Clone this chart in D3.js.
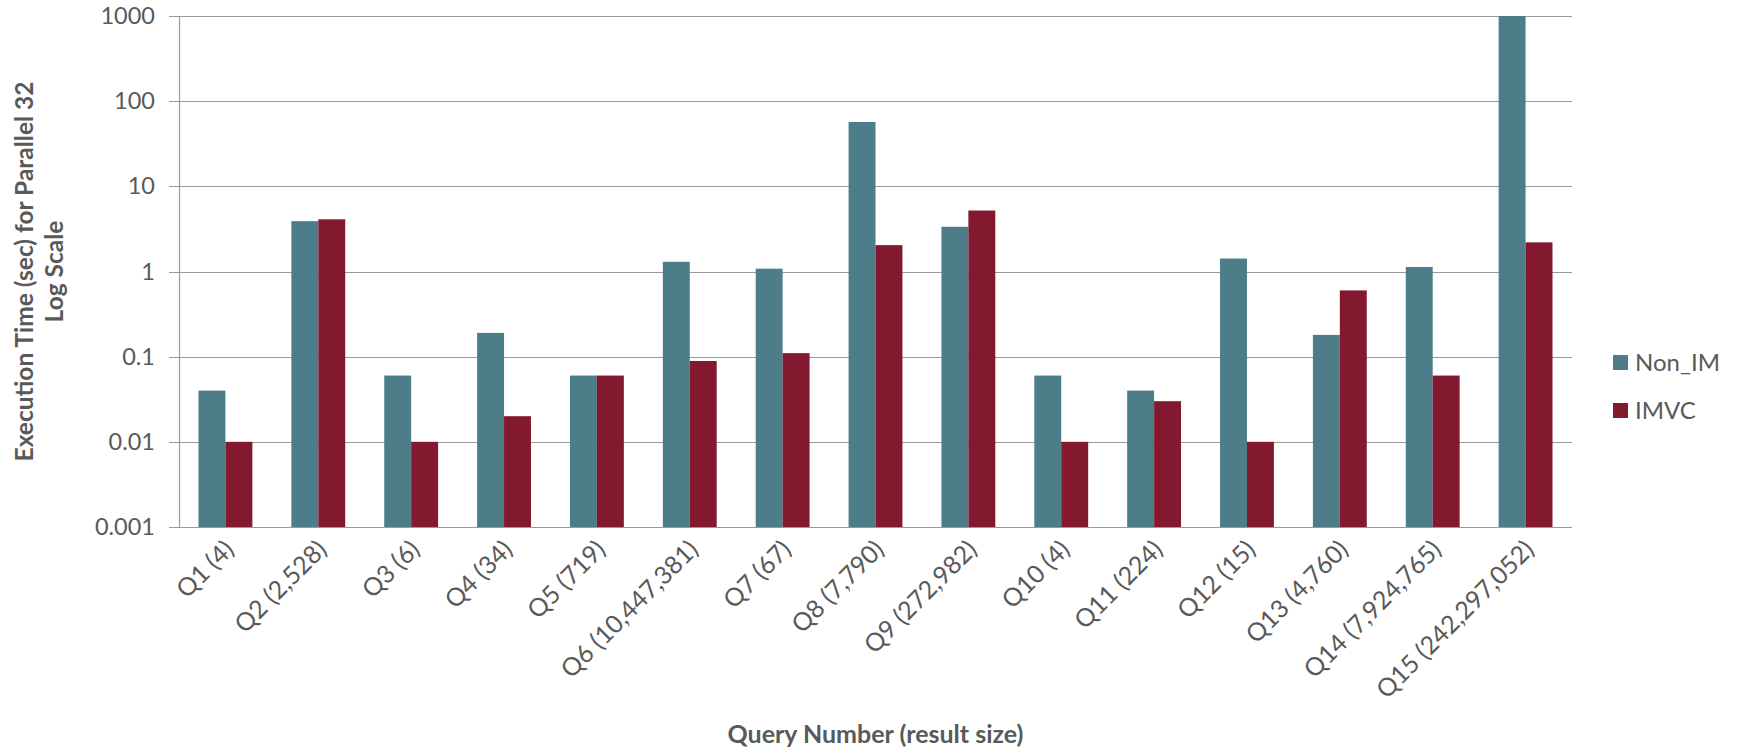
<!DOCTYPE html>
<html>
<head>
<meta charset="utf-8">
<script src="https://cdn.jsdelivr.net/npm/d3@7"></script>
<style>
  body { margin: 0; background: #fff; }
  text { font-family: Lato, "Open Sans", sans-serif; fill: #595959; }
</style>
</head>
<body>
<div id="chart"></div>
<script>
var queries = ["Q1 (4)", "Q2 (2,528)", "Q3 (6)", "Q4 (34)", "Q5 (719)", "Q6 (10,447,381)",
    "Q7 (67)", "Q8 (7,790)", "Q9 (272,982)", "Q10 (4)", "Q11 (224)", "Q12 (15)",
    "Q13 (4,760)", "Q14 (7,924,765)", "Q15 (242,297,052)"];
var seriesNames = ["Non_IM", "IMVC"];
var nonIM = [0.04, 3.9, 0.06, 0.19, 0.06, 1.3, 1.08, 57, 3.35, 0.06, 0.04, 1.42, 0.18, 1.13, 1000];
var imvc  = [0.01, 4.1, 0.01, 0.02, 0.06, 0.089, 0.11, 2.04, 5.2, 0.01, 0.03, 0.01, 0.6, 0.06, 2.2];
var yTicks = [0.001, 0.01, 0.1, 1, 10, 100, 1000];
var colors = ["#4c7d89", "#82192f"];

var width = 1742, height = 751;
var plotLeft = 179, plotRight = 1572, plotTop = 16, plotBottom = 527;

var rows = queries.map(function (q, i) {
    return { q: q, vals: [nonIM[i], imvc[i]] };
});

var svg = d3.select("#chart").append("svg")
    .attr("width", width)
    .attr("height", height);

var x0 = d3.scaleBand()
    .domain(queries)
    .range([plotLeft, plotRight])
    .paddingInner(0.42)
    .paddingOuter(0.21);

var x1 = d3.scaleBand()
    .domain(seriesNames)
    .range([0, x0.bandwidth()]);

var y = d3.scaleLog()
    .domain([0.001, 1000])
    .range([plotBottom, plotTop]);

// gridlines
svg.append("g")
    .selectAll("line")
    .data(yTicks)
    .enter()
    .append("line")
    .attr("x1", plotLeft - 10)
    .attr("x2", plotRight)
    .attr("y1", function (d) { return Math.round(y(d)) + 0.5; })
    .attr("y2", function (d) { return Math.round(y(d)) + 0.5; })
    .attr("stroke", "#9a9a9a")
    .attr("stroke-width", 1.2);

// bars
var groups = svg.append("g")
    .selectAll("g")
    .data(rows)
    .enter()
    .append("g")
    .attr("transform", function (d) { return "translate(" + x0(d.q) + ",0)"; });

groups.selectAll("rect")
    .data(function (d) { return d.vals.map(function (v, i) { return { key: seriesNames[i], v: v, i: i }; }); })
    .enter()
    .append("rect")
    .attr("x", function (d) { return x1(d.key); })
    .attr("width", x1.bandwidth())
    .attr("y", function (d) { return y(d.v); })
    .attr("height", function (d) { return plotBottom - y(d.v); })
    .attr("fill", function (d) { return colors[d.i]; });

// y axis
var yAxis = d3.axisLeft(y)
    .tickValues(yTicks)
    .tickFormat(function (d) { return String(d); })
    .tickSize(0)
    .tickPadding(24);

var gy = svg.append("g")
    .attr("transform", "translate(" + plotLeft + ",0)")
    .call(yAxis);
gy.select(".domain").remove();
gy.selectAll("text")
    .style("font-size", "23.5px")
    .style("fill", "#595959");

svg.append("line")
    .attr("x1", plotLeft + 0.5).attr("x2", plotLeft + 0.5)
    .attr("y1", plotTop).attr("y2", plotBottom)
    .attr("stroke", "#9a9a9a").attr("stroke-width", 1.2);

// x axis
var xAxis = d3.axisBottom(x0).tickSize(0).tickPadding(0);
var gx = svg.append("g")
    .attr("transform", "translate(0," + plotBottom + ")")
    .call(xAxis);
gx.select(".domain").remove();
gx.selectAll("text")
    .style("font-size", "25px")
    .style("fill", "#595959")
    .attr("text-anchor", "end")
    .attr("dy", null)
    .attr("y", 0)
    .attr("transform", "translate(10,24) rotate(-45)");

// axis titles
svg.append("text")
    .attr("text-anchor", "middle")
    .attr("transform", "translate(33," + ((plotTop + plotBottom) / 2) + ") rotate(-90)")
    .style("font-size", "24.5px")
    .style("font-weight", "bold")
    .text("Execution Time (sec) for Parallel 32");
svg.append("text")
    .attr("text-anchor", "middle")
    .attr("transform", "translate(63," + ((plotTop + plotBottom) / 2) + ") rotate(-90)")
    .style("font-size", "24.5px")
    .style("font-weight", "bold")
    .text("Log Scale");

svg.append("text")
    .attr("x", (plotLeft + plotRight) / 2)
    .attr("y", 743)
    .attr("text-anchor", "middle")
    .style("font-size", "25px")
    .style("font-weight", "bold")
    .text("Query Number (result size)");

// legend
var legend = svg.append("g")
    .selectAll("g")
    .data(seriesNames)
    .enter()
    .append("g")
    .attr("transform", function (d, i) { return "translate(1613," + (355 + i * 48) + ")"; });
legend.append("rect")
    .attr("width", 15)
    .attr("height", 15)
    .attr("fill", function (d, i) { return colors[i]; });
legend.append("text")
    .attr("x", 22)
    .attr("y", 16)
    .style("font-size", "24px")
    .text(function (d) { return d; });
</script>
</body>
</html>
